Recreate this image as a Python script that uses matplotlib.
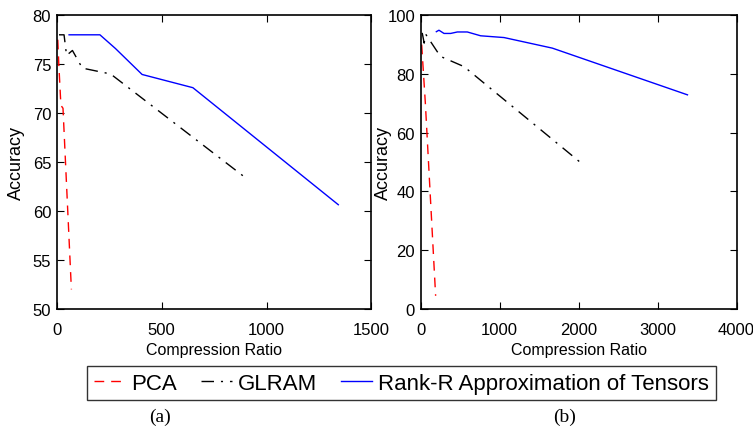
import matplotlib.pyplot as plt

# data, panel (a)
pca_a_x = [5, 10, 20, 30, 70]
pca_a_y = [77.5, 75.0, 70.8, 70.5, 52.0]
glram_a_x = [11, 35, 47, 75, 122, 257, 906]
glram_a_y = [78.0, 78.0, 75.9, 76.4, 74.6, 74.0, 63.3]
rank_a_x = [59, 206, 280, 407, 649, 1342]
rank_a_y = [78.0, 78.0, 76.6, 73.95, 72.6, 60.65]

# panel (b)
pca_b_x = [13, 60, 190]
pca_b_y = [90.0, 70.0, 4.5]
glram_b_x = [20, 45, 65, 250, 550, 2050]
glram_b_y = [94.0, 90.5, 93.5, 86.0, 82.5, 49.3]
rank_b_x = [199, 232, 296, 380, 465, 591, 760, 1056, 1668, 3379]
rank_b_y = [94.4, 94.9, 93.8, 93.8, 94.3, 94.3, 93.0, 92.4, 88.8, 72.9]

names = ['PCA', 'GLRAM', 'Rank-R Approximation of Tensors']

plt.rcParams['font.family'] = ['Liberation Sans', 'DejaVu Sans']

fig = plt.figure(figsize=(7.53, 4.27), dpi=100)
ax1 = fig.add_axes([0.0753, 0.274, 0.418, 0.688])
ax2 = fig.add_axes([0.5586, 0.274, 0.4195, 0.688])

pca_style = dict(color='red', linestyle=(0, (7, 5)), linewidth=1.0)
glram_style = dict(color='black', linestyle=(0, (9, 5, 1.5, 5)), linewidth=1.0)
rank_style = dict(color='blue', linestyle='-', linewidth=1.0)

for ax, data, xlim, ylim, xt, yt, lx in [
    (ax1, (pca_a_x, pca_a_y, glram_a_x, glram_a_y, rank_a_x, rank_a_y),
     (0, 1500), (50, 80), [0, 500, 1000, 1500], [50, 55, 60, 65, 70, 75, 80], -0.10),
    (ax2, (pca_b_x, pca_b_y, glram_b_x, glram_b_y, rank_b_x, rank_b_y),
     (0, 4000), (0, 100), [0, 1000, 2000, 3000, 4000], [0, 20, 40, 60, 80, 100], -0.09),
]:
    l1, = ax.plot(data[0], data[1], **pca_style)
    l2, = ax.plot(data[2], data[3], **glram_style)
    l3, = ax.plot(data[4], data[5], **rank_style)
    ax.set_xlim(*xlim)
    ax.set_ylim(*ylim)
    ax.set_xticks(xt)
    ax.set_yticks(yt)
    ax.tick_params(direction='in', top=True, right=True, length=5, width=0.8,
                   labelsize=12)
    ax.tick_params(axis='x', pad=9)
    ax.tick_params(axis='y', pad=4)
    for s in ax.spines.values():
        s.set_linewidth(1.2)
    ax.set_xlabel('Compression Ratio', fontsize=11.5, labelpad=4)
    ax.set_ylabel('Accuracy', fontsize=13)
    ax.yaxis.set_label_coords(lx, 0.5)

leg = fig.legend([l1, l2, l3], names, loc='center',
                 bbox_to_anchor=(0.5332, 0.1007), ncol=3, fontsize=16,
                 handlelength=1.4, handletextpad=0.25, columnspacing=1.1,
                 borderpad=0.3, frameon=True, fancybox=False)
leg.get_frame().set_edgecolor('black')
leg.get_frame().set_linewidth(1.0)

fig.text(160 / 753, 1 - 417 / 427, '(a)', ha='center', va='center',
         fontsize=14, family=['Liberation Serif', 'DejaVu Serif'])
fig.text(565 / 753, 1 - 417 / 427, '(b)', ha='center', va='center',
         fontsize=14, family=['Liberation Serif', 'DejaVu Serif'])

fig.savefig('out.png', dpi=100)
